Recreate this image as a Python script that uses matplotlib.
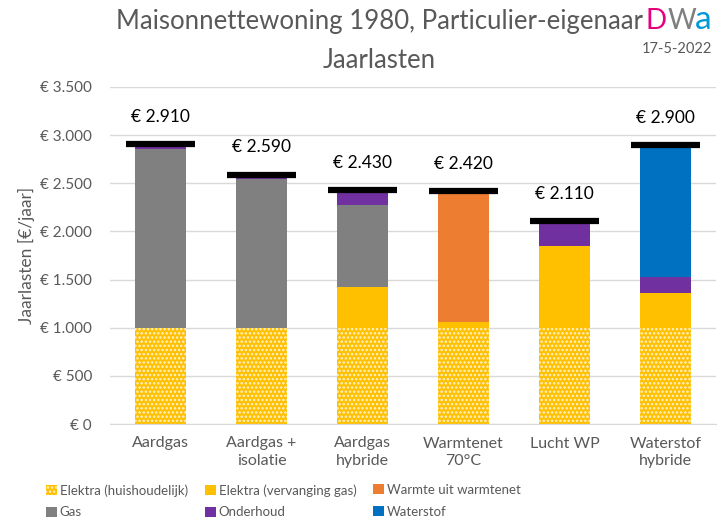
import matplotlib
matplotlib.use("Agg")
import matplotlib.pyplot as plt
from matplotlib.patches import Patch
import numpy as np

plt.rcParams["font.family"] = ["Lato", "DejaVu Sans"]
plt.rcParams["hatch.linewidth"] = 1.2

categories = ["Aardgas", "Aardgas +\nisolatie", "Aardgas\nhybride",
              "Warmtenet\n70°C", "Lucht WP", "Waterstof\nhybride"]

elektra_huis = [1000, 1000, 1000, 1000, 1000, 1000]
elektra_verv = [0, 0, 420, 60, 845, 365]
warmte       = [0, 0, 0, 1360, 0, 0]
gas          = [1860, 1540, 855, 0, 0, 0]
onderhoud    = [50, 50, 155, 0, 265, 160]
waterstof    = [0, 0, 0, 0, 0, 1375]
totals       = [2910, 2590, 2430, 2420, 2110, 2900]

yticks = [0, 500, 1000, 1500, 2000, 2500, 3000, 3500]

GREY_TXT = "#595959"
GRID = "#D9D9D9"
C_HUIS = "#FFC000"
C_VERV = "#FFC000"
C_WARM = "#ED7D31"
C_GAS = "#808080"
C_OND = "#7030A0"
C_H2 = "#0070C0"

fig = plt.figure(figsize=(7.17, 5.23), dpi=100)
ax = fig.add_axes([110 / 717, 99 / 523, 606 / 717, 337 / 523])

x = np.arange(len(categories))
w = 0.5

series = [
    (elektra_verv, C_VERV, "Elektra (vervanging gas)"),
    (warmte, C_WARM, "Warmte uit warmtenet"),
    (gas, C_GAS, "Gas"),
    (onderhoud, C_OND, "Onderhoud"),
    (waterstof, C_H2, "Waterstof"),
]

# bottom segment with dotted fill
ax.bar(x, elektra_huis, w, color=C_HUIS, edgecolor="#FFF2CC", linewidth=0,
       hatch="....", zorder=2)
bottom = np.array(elektra_huis, dtype=float)
for vals, col, _ in series:
    ax.bar(x, vals, w, bottom=bottom, color=col, linewidth=0, zorder=2)
    bottom += np.array(vals)

# total markers + labels
for xi, t in zip(x, totals):
    ax.plot([xi - 0.34, xi + 0.34], [t, t], color="black", lw=4.5,
            solid_capstyle="butt", zorder=3)
    ax.text(xi, t + 200, f"€ {t / 1000:.3f}",
            ha="center", va="bottom", fontsize=12.5, color="black")

ax.set_xlim(-0.5, len(categories) - 0.5)
ax.set_ylim(0, 3500)
ax.set_yticks(yticks)
ax.set_yticklabels([f"€ {v:,}".replace(",", ".") for v in yticks])
ax.set_xticks(x)
ax.set_xticklabels(categories, linespacing=1.3)
ax.tick_params(axis="both", length=0, colors=GREY_TXT)
ax.tick_params(axis="y", pad=13, labelsize=11)
ax.tick_params(axis="x", pad=9, labelsize=11.5)
ax.grid(axis="y", color=GRID, lw=1, zorder=0)
for s in ["top", "right", "left"]:
    ax.spines[s].set_visible(False)
ax.spines["bottom"].set_color(GRID)
ax.set_ylabel("Jaarlasten [€/jaar]", color=GREY_TXT, fontsize=12.5)
ax.yaxis.set_label_coords((35 - 110) / 606, 0.5)

# titles
fig.text(379 / 717, 1 - 22 / 523, "Maisonnettewoning 1980, Particulier-eigenaar",
         ha="center", va="center", fontsize=18.5, color=GREY_TXT)
fig.text(379 / 717, 1 - 60 / 523, "Jaarlasten",
         ha="center", va="center", fontsize=18.5, color=GREY_TXT)

# logo and date
fig.text(646 / 717, 1 - 29 / 523, "D", ha="left", va="baseline", fontsize=20,
         color="#E6007E")
fig.text(668 / 717, 1 - 29 / 523, "W", ha="left", va="baseline", fontsize=20,
         color="#7F7F7F")
fig.text(695 / 717, 1 - 29 / 523, "a", ha="left", va="baseline", fontsize=24,
         color="#0098D8")
fig.text(712 / 717, 1 - 49 / 523, "17-5-2022", ha="right", va="center",
         fontsize=10.5, color=GREY_TXT)

# legend in three columns
legend_cols = [
    (46, [Patch(facecolor=C_HUIS, edgecolor="#FFF2CC", hatch="....", lw=0),
          Patch(facecolor=C_GAS)],
     ["Elektra (huishoudelijk)", "Gas"]),
    (205, [Patch(facecolor=C_VERV), Patch(facecolor=C_OND)],
     ["Elektra (vervanging gas)", "Onderhoud"]),
    (373, [Patch(facecolor=C_WARM), Patch(facecolor=C_H2)],
     ["Warmte uit warmtenet", "Waterstof"]),
]
for xpos, handles, labels in legend_cols:
    leg = fig.legend(handles, labels, loc="upper left",
                     bbox_to_anchor=(xpos / 717, 1 - 484 / 523),
                     frameon=False, fontsize=9.5, handlelength=0.8,
                     handleheight=0.8, handletextpad=0.25, labelspacing=0.75,
                     borderpad=0, borderaxespad=0, labelcolor=GREY_TXT)

fig.savefig("out.png", dpi=100)
